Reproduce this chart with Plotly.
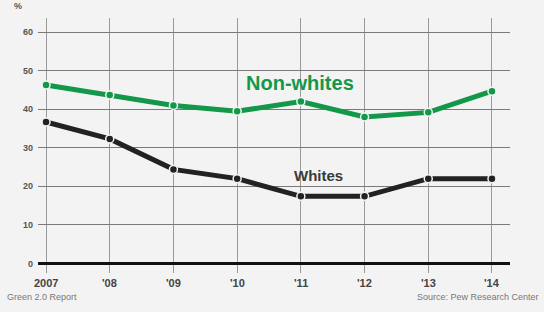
import plotly.graph_objects as go

years = [2007, 2008, 2009, 2010, 2011, 2012, 2013, 2014]
year_labels = ["2007", "'08", "'09", "'10", "'11", "'12", "'13", "'14"]
non_whites = [46.3, 43.7, 41.0, 39.5, 42.0, 38.0, 39.2, 44.7]
whites = [36.7, 32.3, 24.4, 22.0, 17.4, 17.4, 22.0, 22.0]
y_ticks = [0, 10, 20, 30, 40, 50, 60]

BG = "#f3f3f3"
GREEN = "#13984a"
DARK = "#222222"
FONT = "Liberation Sans Narrow, Liberation Sans, Arial, sans-serif"

fig = go.Figure()
fig.add_trace(go.Scatter(
    x=years, y=non_whites, mode="lines+markers",
    line=dict(color=GREEN, width=5),
    marker=dict(size=8, color=GREEN, line=dict(color=BG, width=1.5)),
    showlegend=False, hoverinfo="skip"))
fig.add_trace(go.Scatter(
    x=years, y=whites, mode="lines+markers",
    line=dict(color=DARK, width=5),
    marker=dict(size=8, color=DARK, line=dict(color=BG, width=1.5)),
    showlegend=False, hoverinfo="skip"))

annotations = [
    dict(text="<b>%</b>", x=-0.03, y=1.02, xref="paper", yref="paper", showarrow=False,
         xanchor="right", yanchor="bottom", font=dict(size=9, color="#555")),
    dict(text="<b>Non-whites</b>", x=2010.98, y=46.8, xref="x", yref="y",
         showarrow=False, font=dict(size=20, color=GREEN, family=FONT)),
    dict(text="<b>Whites</b>", x=2011.27, y=22.9, xref="x", yref="y",
         showarrow=False, font=dict(size=15, color="#3a3a3a", family=FONT)),
    dict(text="Green 2.0 Report", x=-0.07, y=-0.12, xref="paper", yref="paper",
         showarrow=False, xanchor="left", yanchor="bottom",
         font=dict(size=9, color="#777", family=FONT)),
    dict(text="Source: Pew Research Center", x=1.065, y=-0.12, xref="paper", yref="paper",
         showarrow=False, xanchor="right", yanchor="bottom",
         font=dict(size=9, color="#777", family=FONT)),
]
for yr, lab in zip(years, year_labels):
    annotations.append(dict(text="<b>" + lab + "</b>", x=yr, y=-0.041, xref="x", yref="paper",
                            showarrow=False, yanchor="middle",
                            font=dict(size=11, color="#444", family=FONT)))

fig.update_layout(
    width=544, height=312,
    paper_bgcolor=BG, plot_bgcolor=BG,
    margin=dict(l=38, r=34, t=18, b=39),
    font=dict(family=FONT, color="#555"),
    xaxis=dict(
        range=[2006.874, 2014.283],
        tickmode="array", tickvals=years, ticktext=year_labels,
        showticklabels=False,
        showgrid=True, gridcolor="#9a9a9a", gridwidth=1,
        zeroline=False, showline=False, ticks="",
    ),
    yaxis=dict(
        range=[-2.5, 63.7],
        tickmode="array", tickvals=y_ticks,
        ticktext=["<b>%d</b>" % v for v in y_ticks],
        showgrid=True, gridcolor="#7a7a7a", gridwidth=1,
        zeroline=True, zerolinecolor="#111", zerolinewidth=3,
        showline=False, ticks="",
        tickfont=dict(size=9, color="#555", family=FONT),
        ticklabelstandoff=4,
    ),
    annotations=annotations,
)

fig.write_html("out.html", config={"displayModeBar": False},
               post_script="document.body.style.margin='0px';document.body.style.background='" + BG + "';")
